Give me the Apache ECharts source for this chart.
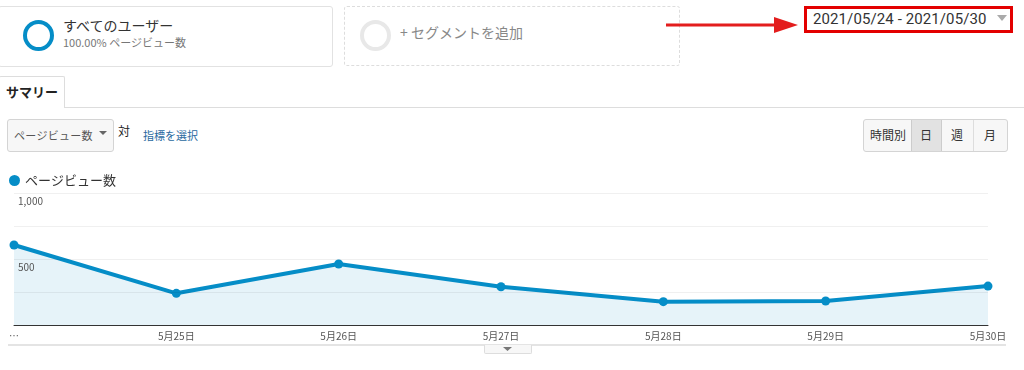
<!DOCTYPE html>
<html><head><meta charset="utf-8">
<script src="https://cdn.jsdelivr.net/npm/echarts@6/dist/echarts.min.js"></script>
<style>
html,body{margin:0;padding:0;width:1024px;height:370px;overflow:hidden;background:#fff;font-family:"Noto Sans CJK JP","Noto Sans",sans-serif;}
.abs{position:absolute;box-sizing:border-box;}
#chart{position:absolute;left:0;top:0;width:1024px;height:370px;}
.ring{position:absolute;border-radius:50%;box-sizing:border-box;}
</style></head>
<body>
<div class="abs" style="left:-2px;top:6px;width:335px;height:61px;border:1px solid #e2e2e2;border-radius:3px;"></div>
<div class="ring" style="left:23px;top:20px;width:31px;height:31px;border:4px solid #058dc7;"></div>
<div class="abs" style="left:63px;top:16px;font-size:14px;color:#333;line-height:18px;">すべてのユーザー</div>
<div class="abs" style="left:63px;top:35px;font-size:11px;color:#777;line-height:14px;">100.00% ページビュー数</div>

<div class="abs" style="left:344px;top:6px;width:336px;height:60px;border:1px dashed #ddd;border-radius:3px;"></div>
<div class="ring" style="left:360px;top:20px;width:31px;height:31px;border:4px solid #e8e8e8;"></div>
<div class="abs" style="left:400px;top:23px;font-size:14px;color:#888;line-height:18px;">+ セグメントを追加</div>

<svg class="abs" style="left:660px;top:10px;" width="145" height="30">
<line x1="6" y1="15" x2="118" y2="15" stroke="#e31d1d" stroke-width="3"/>
<polygon points="114,7 138,15 114,23" fill="#e31d1d"/>
</svg>
<div class="abs" style="left:804px;top:6px;width:209px;height:27px;border:3px solid #e30000;"></div>
<div class="abs" style="left:813px;top:9px;font-size:15px;color:#333;line-height:20px;font-family:Roboto,'Liberation Sans',sans-serif;letter-spacing:0.1px;">2021/05/24 - 2021/05/30</div>
<svg class="abs" style="left:997px;top:15px;" width="12" height="8"><polygon points="0,0 10,0 5,6" fill="#aaa"/></svg>

<div class="abs" style="left:0px;top:107px;width:1024px;height:1px;background:#ddd;"></div>
<div class="abs" style="left:-1px;top:76px;width:66px;height:32px;border:1px solid #ddd;border-bottom:none;background:#fff;border-radius:2px 2px 0 0;"></div>
<div class="abs" style="left:6px;top:83px;font-size:13px;font-weight:bold;color:#222;line-height:18px;">サマリー</div>

<div class="abs" style="left:7px;top:119px;width:107px;height:33px;border:1px solid #d4d4d4;border-radius:3px;background:#f7f7f7;"></div>
<div class="abs" style="left:14px;top:127px;font-size:11px;color:#555;line-height:16px;letter-spacing:0.3px;">ページビュー数</div>
<svg class="abs" style="left:99px;top:131px;" width="9" height="6"><polygon points="0,0 8,0 4,4" fill="#666"/></svg>
<div class="abs" style="left:118px;top:123px;font-size:12px;color:#222;line-height:16px;">対</div>
<div class="abs" style="left:143px;top:127px;font-size:11px;color:#2a6aa0;line-height:16px;">指標を選択</div>

<div class="abs" style="left:863px;top:119px;width:145px;height:33px;border:1px solid #d4d4d4;border-radius:3px;background:#f7f7f7;"></div>
<div class="abs" style="left:911px;top:120px;width:31px;height:31px;background:#e2e2e2;border-left:1px solid #ccc;border-right:1px solid #ccc;"></div>
<div class="abs" style="left:973px;top:120px;width:1px;height:31px;background:#ddd;"></div>
<div class="abs" style="left:870px;top:127px;font-size:12px;color:#333;line-height:16px;">時間別</div>
<div class="abs" style="left:920px;top:127px;font-size:12px;color:#333;line-height:16px;">日</div>
<div class="abs" style="left:951px;top:127px;font-size:12px;color:#333;line-height:16px;">週</div>
<div class="abs" style="left:984px;top:127px;font-size:12px;color:#333;line-height:16px;">月</div>

<div class="abs" style="left:8px;top:344px;width:998px;height:2px;background:#e4e4e4;"></div>
<div class="abs" style="left:484px;top:345px;width:48px;height:9px;border:1px solid #ddd;border-top:none;background:#f7f7f7;border-radius:0 0 2px 2px;"></div>
<svg class="abs" style="left:503px;top:347px;" width="10" height="5"><polygon points="0,0 9,0 4.5,4" fill="#777"/></svg>

<div id="chart"></div>
<script>
var categories = ['…', '5月25日', '5月26日', '5月27日', '5月28日', '5月29日', '5月30日'];
var pageviews = [606, 240, 462, 290, 177, 182, 295];
var seriesName = 'ページビュー数';
var yTicks = [0, 500, 1000];

var chart = echarts.init(document.getElementById('chart'), null, {renderer: 'canvas'});
chart.setOption({
  backgroundColor: 'transparent',
  animation: false,
  textStyle: {fontFamily: '"Noto Sans CJK JP","Noto Sans",sans-serif'},
  legend: {
    left: 4, top: 169, icon: 'circle', itemWidth: 11, itemHeight: 11, itemGap: 8,
    textStyle: {fontSize: 13, color: '#333'},
    data: [seriesName]
  },
  grid: {left: 14, right: 36, top: 193, bottom: 45},
  xAxis: {
    type: 'category', data: categories, boundaryGap: false, z: 5,
    axisLine: {lineStyle: {color: '#333', width: 1}},
    axisTick: {show: false},
    axisLabel: {fontSize: 10, color: '#555', margin: 6, interval: 0}
  },
  yAxis: {
    type: 'value', min: yTicks[0], max: yTicks[2], interval: 500, z: 3,
    axisLine: {show: false}, axisTick: {show: false},
    splitLine: {lineStyle: {color: 'rgba(0,0,0,0.06)'}},
    minorTick: {show: false, splitNumber: 2},
    minorSplitLine: {show: true, lineStyle: {color: 'rgba(0,0,0,0.06)'}},
    axisLabel: {
      inside: true, margin: 4, verticalAlign: 'top', fontSize: 10, color: '#555',
      padding: [3, 0, 0, 0], showMinLabel: false, hideOverlap: false,
      formatter: function (v) { return v === 0 ? '' : v.toLocaleString('en-US'); }
    }
  },
  series: [{
    name: seriesName, type: 'line', data: pageviews, z: 2,
    symbol: 'circle', symbolSize: 9,
    itemStyle: {color: '#058dc7'},
    lineStyle: {color: '#058dc7', width: 4},
    areaStyle: {color: '#e6f3f9', opacity: 1}
  }]
});
</script>
</body></html>
